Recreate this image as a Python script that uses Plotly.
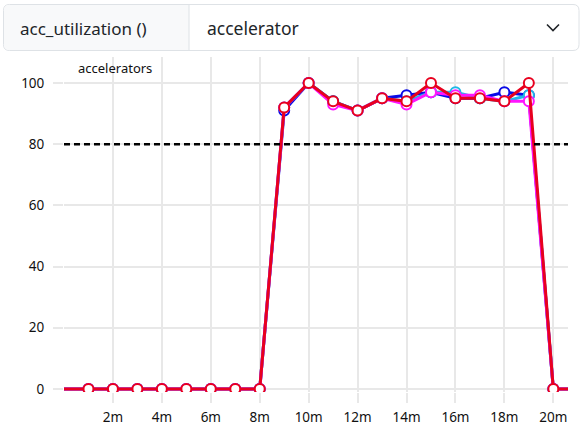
import plotly.graph_objects as go

# ---- data ----
minutes = [-1, 1, 2, 3, 4, 5, 6, 7, 8, 9, 10, 11, 12, 13, 14, 15, 16, 17, 18, 19, 20, 21]
blue_vals = [0, 0, 0, 0, 0, 0, 0, 0, 0, 91, 100, 94, 91, 95, 96, 97, 95, 95, 97, 96, 0, 0]
cyan_vals = [0, 0, 0, 0, 0, 0, 0, 0, 0, 92, 100, 94, 91, 95, 94, 97, 97, 95, 94, 96, 0, 0]
magenta_vals = [0, 0, 0, 0, 0, 0, 0, 0, 0, 92, 100, 93, 91, 95, 93, 97, 96, 96, 94, 94, 0, 0]
red_vals = [0, 0, 0, 0, 0, 0, 0, 0, 0, 92, 100, 94, 91, 95, 94, 100, 95, 95, 94, 100, 0, 0]
series_names = ["acc-0", "acc-1", "acc-2", "acc-3"]
series_colors = ["#0a0ae6", "#1fb8e6", "#ff14ff", "#e8001e"]
threshold = 80
x_tickvals = [2, 4, 6, 8, 10, 12, 14, 16, 18, 20]
x_ticktext = ["2m", "4m", "6m", "8m", "10m", "12m", "14m", "16m", "18m", "20m"]
y_tickvals = [0, 20, 40, 60, 80, 100]
metric_label = "acc_utilization ()"
group_label = "accelerator"
axis_label = "accelerators"

# ---- layout geometry (pixels) ----
W, H = 582, 428
L, R, T, B = 64, 568, 57, 392
FONT = "Noto Sans"


def px(x):
    return (x - L) / (R - L)


def py(y):
    return (B - y) / (B - T)


fig = go.Figure()
for name, col, vals in zip(series_names, series_colors,
                           [blue_vals, cyan_vals, magenta_vals, red_vals]):
    fig.add_trace(go.Scatter(
        x=minutes, y=vals, mode="lines+markers", name=name,
        line=dict(color=col, width=3),
        marker=dict(size=10, color="white", line=dict(color=col, width=2)),
    ))

shapes = []
# threshold line
shapes.append(dict(type="line", xref="paper", yref="y", x0=0, x1=1,
                   y0=threshold, y1=threshold,
                   line=dict(color="black", width=2.5, dash="6px,4px")))


def rounded_path(x0, y0, x1, y1, r, left=True, right=True):
    def P(x, y):
        return f"{px(x):.5f},{py(y):.5f}"
    p = ""
    if left:
        p += f"M {P(x0 + r, y0)} "
    else:
        p += f"M {P(x0, y0)} "
    if right:
        p += f"L {P(x1 - r, y0)} Q {P(x1, y0)} {P(x1, y0 + r)} L {P(x1, y1 - r)} Q {P(x1, y1)} {P(x1 - r, y1)} "
    else:
        p += f"L {P(x1, y0)} L {P(x1, y1)} "
    if left:
        p += f"L {P(x0 + r, y1)} Q {P(x0, y1)} {P(x0, y1 - r)} L {P(x0, y0 + r)} Q {P(x0, y0)} {P(x0 + r, y0)} Z"
    else:
        p += f"L {P(x0, y1)} Z"
    return p


# header box
shapes.append(dict(type="path", xref="paper", yref="paper",
                   path=rounded_path(3.5, 4.5, 579, 50.5, 6),
                   fillcolor="white", line=dict(color="#dee2e6", width=1), layer="above"))
shapes.append(dict(type="path", xref="paper", yref="paper",
                   path=rounded_path(4, 5, 189, 50, 5.5, left=True, right=False),
                   fillcolor="#f8f9fa", line=dict(width=0), layer="above"))
shapes.append(dict(type="line", xref="paper", yref="paper",
                   x0=px(189), x1=px(189), y0=py(5), y1=py(50),
                   line=dict(color="#dee2e6", width=1), layer="above"))
# chevron
shapes.append(dict(type="path", xref="paper", yref="paper",
                   path=f"M {px(547):.5f},{py(24.5):.5f} L {px(553):.5f},{py(30.5):.5f} L {px(559):.5f},{py(24.5):.5f}",
                   line=dict(color="#212529", width=1.6), layer="above"))

annotations = [
    dict(text=metric_label, xref="paper", yref="paper", x=px(18), y=py(28),
         xanchor="left", yanchor="middle", showarrow=False,
         font=dict(family=FONT, size=17, color="#212529")),
    dict(text=group_label, xref="paper", yref="paper", x=px(205), y=py(28),
         xanchor="left", yanchor="middle", showarrow=False,
         font=dict(family=FONT, size=17.5, color="#212529")),
    dict(text=axis_label, xref="paper", yref="paper", x=px(115), y=py(68),
         xanchor="center", yanchor="middle", showarrow=False,
         font=dict(family=FONT, size=13, color="#111")),
]

grid = "#e8e8e8"
fig.update_layout(
    width=W, height=H,
    margin=dict(l=L, r=W - R, t=T, b=H - B, pad=0, autoexpand=False),
    paper_bgcolor="white", plot_bgcolor="white",
    showlegend=False,
    shapes=shapes, annotations=annotations,
    font=dict(family=FONT, size=13, color="#111"),
    xaxis=dict(range=[0, 20.6], tickvals=x_tickvals, ticktext=x_ticktext,
               showgrid=True, gridcolor=grid, gridwidth=2,
               ticks="outside", ticklen=10, tickwidth=2, tickcolor=grid,
               zeroline=False, showline=False, ticklabelstandoff=3,
               automargin=False,
               tickfont=dict(family=FONT, size=13.5, color="#111")),
    yaxis=dict(range=[-1, 108.5], tickvals=y_tickvals,
               showgrid=True, gridcolor=grid, gridwidth=2,
               ticks="outside", ticklen=10, tickwidth=2, tickcolor=grid,
               zeroline=False, showline=False, ticklabelstandoff=6,
               automargin=False,
               tickfont=dict(family=FONT, size=13.5, color="#111")),
)

fig.write_html("out.html", config={"displayModeBar": False},
               post_script="document.body.style.margin='0';document.body.style.overflow='hidden';")
